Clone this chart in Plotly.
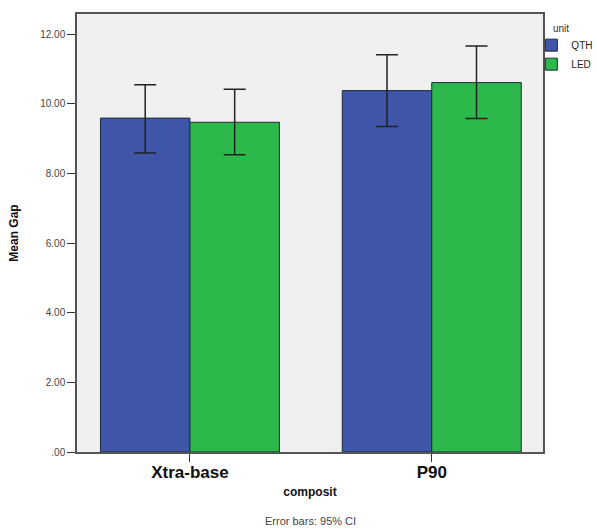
import plotly.graph_objects as go

categories = ["Xtra-base", "P90"]
series_names = ["QTH", "LED"]
qth_mean = [9.59, 10.38]
qth_upper = [10.55, 11.41]
qth_lower = [8.59, 9.35]
led_mean = [9.47, 10.61]
led_upper = [10.42, 11.66]
led_lower = [8.54, 9.58]
tick_vals = [0, 2, 4, 6, 8, 10, 12]
tick_text = [".00", "2.00", "4.00", "6.00", "8.00", "10.00", "12.00"]

colors = ["#3F55A8", "#2DB84B"]
means = [qth_mean, led_mean]
uppers = [qth_upper, led_upper]
lowers = [qth_lower, led_lower]

fig = go.Figure()
for name, m, up, lo, c in zip(series_names, means, uppers, lowers, colors):
    fig.add_trace(go.Bar(
        x=categories, y=m, name=name,
        marker=dict(color=c, line=dict(color="#1e2a3a", width=1)),
        error_y=dict(type="data", symmetric=False,
                     array=[u - v for u, v in zip(up, m)],
                     arrayminus=[v - l for v, l in zip(m, lo)],
                     color="#222222", thickness=1.5, width=11),
    ))

fig.update_layout(
    width=597, height=531,
    margin=dict(l=77, r=54, t=14, b=79, autoexpand=False),
    paper_bgcolor="white", plot_bgcolor="#F0F0F0",
    barmode="group", bargap=0.26, bargroupgap=0,
    font=dict(family="Arial, Liberation Sans, sans-serif", color="#333333"),
    legend=dict(x=0.975, y=0.962, xanchor="left", yanchor="top",
                font=dict(size=10, color="#222"),
                bgcolor="rgba(0,0,0,0)", tracegroupgap=0, itemwidth=30),
    showlegend=True,
)
fig.update_xaxes(
    range=[-0.467, 1.46], showline=True, linecolor="#555", linewidth=1.5, mirror=True,
    ticks="outside", ticklen=8, tickcolor="#333", ticklabelstandoff=-4,
    tickvals=categories, ticktext=["<b>" + c + "</b>" for c in categories],
    tickfont=dict(size=17, color="#111", family="Liberation Sans, Arial, sans-serif"),
    title=dict(text="<b>composit</b>", font=dict(size=12, color="#111"), standoff=6),
    showgrid=False,
)
fig.update_yaxes(
    range=[0, 12.58], tickvals=tick_vals, ticktext=tick_text,
    showline=True, linecolor="#555", linewidth=1.5, mirror=True,
    ticks="outside", ticklen=8, tickcolor="#333",
    tickfont=dict(size=10, color="#444"),
    title=dict(text="<b>Mean Gap</b>", font=dict(size=12, color="#111"), standoff=19),
    showgrid=False, zeroline=False,
)
fig.add_annotation(text="unit", xref="paper", yref="paper",
                   x=1.018, y=0.968, xanchor="left", yanchor="middle",
                   showarrow=False, font=dict(size=10, color="#333"))
fig.add_annotation(text="Error bars: 95% CI", xref="paper", yref="paper",
                   x=0.5, y=-0.157, xanchor="center", yanchor="middle",
                   showarrow=False, font=dict(size=11, color="#444"))
fig.write_html("out.html", config={"displayModeBar": False},
               post_script="document.body.style.margin='0';document.body.style.overflow='hidden';")
